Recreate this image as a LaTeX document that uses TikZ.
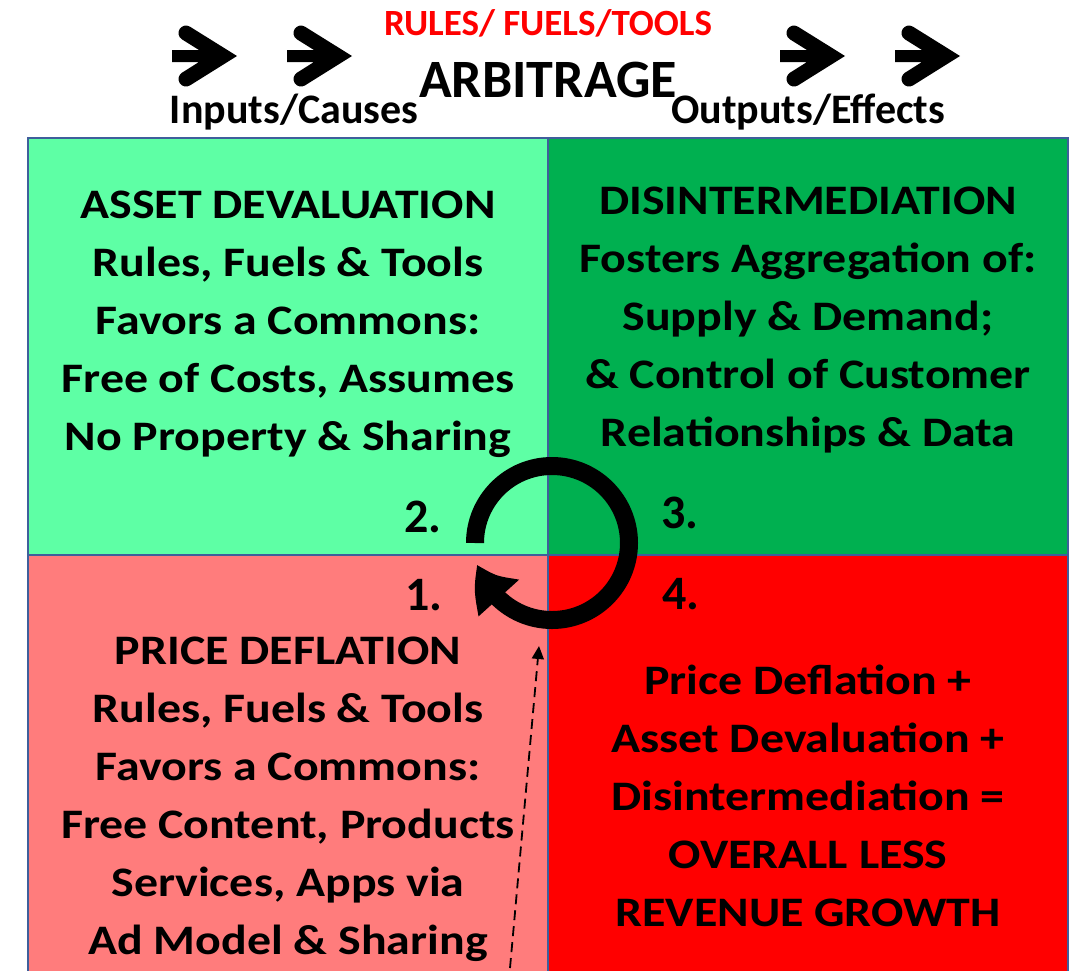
\documentclass[tikz,border=0pt]{standalone}
\usepackage{fontspec}
\setmainfont{Carlito}
\newfontfamily\widefont{Carlito}[FakeStretch=1.14]
\usetikzlibrary{arrows.meta,bending}

\definecolor{mint}{RGB}{94,255,165}
\definecolor{leaf}{RGB}{0,176,80}
\definecolor{salmon}{RGB}{255,124,124}
\definecolor{hotred}{RGB}{255,0,0}
\definecolor{edgeblue}{RGB}{63,95,155}

% fat arrow of the heading, drawn from the left end of its shaft
\tikzset{headarrow/.pic={
  \fill (0,-6) -- (27,-6) -- (10,-16.6) arc[start angle=122,end angle=302,radius=7.5]
    -- (65,0) -- (18,29.4) arc[start angle=58,end angle=238,radius=7.5]
    -- (27,6) -- (0,6) -- cycle;
}}

\begin{document}
\begin{tikzpicture}[x=1pt,y=-1pt,
  quad/.style={draw=edgeblue,line width=2.5pt},
  quadtext/.style={align=center,inner sep=0pt,font=\widefont\fontsize{42}{58}\selectfont\bfseries},
  numtext/.style={inner sep=0pt,font=\fontsize{48}{50}\selectfont\bfseries},
  headtext/.style={inner sep=0pt,anchor=base,font=\fontsize{#1}{#1}\selectfont\bfseries}]
\useasboundingbox (0,0) rectangle (1074,970);

% the four quadrants
\filldraw[quad,fill=mint] (28,138) rectangle (548,555);
\filldraw[quad,fill=leaf] (548,138) rectangle (1068,555);
\filldraw[quad,fill=salmon] (28,555) rectangle (548,980);
\filldraw[quad,fill=hotred] (548,555) rectangle (1068,980);

% heading
\node[headtext=37,text=hotred] (rules) at (548,35) {RULES/ FUELS/TOOLS};
\node[headtext=54] (arbitrage) at (548,97) {ARBITRAGE};
\node[headtext=42] (inputs) at (294,123) {Inputs/Causes};
\node[headtext=42] (outputs) at (808,123) {Outputs/Effects};
\foreach \x in {172,287,780,895}
  \pic at (\x,56) {headarrow};

% quadrant texts
\node[quadtext] (devaluation) at (288,324) {ASSET DEVALUATION\\Rules, Fuels \& Tools\\Favors a Commons:\\Free of Costs, Assumes\\No Property \& Sharing};
\node[quadtext] (disinter) at (808,320) {DISINTERMEDIATION\\Fosters Aggregation of:\\Supply \& Demand;\\\& Control of Customer\\Relationships \& Data};
\node[quadtext] (deflation) at (288,799) {PRICE DEFLATION\\Rules, Fuels \& Tools\\Favors a Commons:\\Free Content, Products\\Services, Apps via\\Ad Model \& Sharing};
\node[quadtext] (lessgrowth) at (808,796) {Price Deflation +\\Asset Devaluation +\\Disintermediation =\\OVERALL LESS\\REVENUE GROWTH};

% step numbers
\node[numtext] (one) at (424,595) {1.};
\node[numtext] (two) at (423,517) {2.};
\node[numtext] (three) at (680,513) {3.};
\node[numtext] (four) at (681,594) {4.};

% the cycle
\draw[line width=18pt,-{Triangle[length=41pt,width=51pt,bend]}]
  (475,543) arc[start angle=180,end angle=524,radius=77];

% dashed feed into step 1
\coordinate (dashfoot) at (510,968);
\coordinate (dashtip) at (539,646);
\draw[line width=1.8pt,dash pattern=on 10pt off 6pt,-{Triangle[length=13pt,width=12pt]}] (dashfoot) -- (dashtip);
\end{tikzpicture}
\end{document}
